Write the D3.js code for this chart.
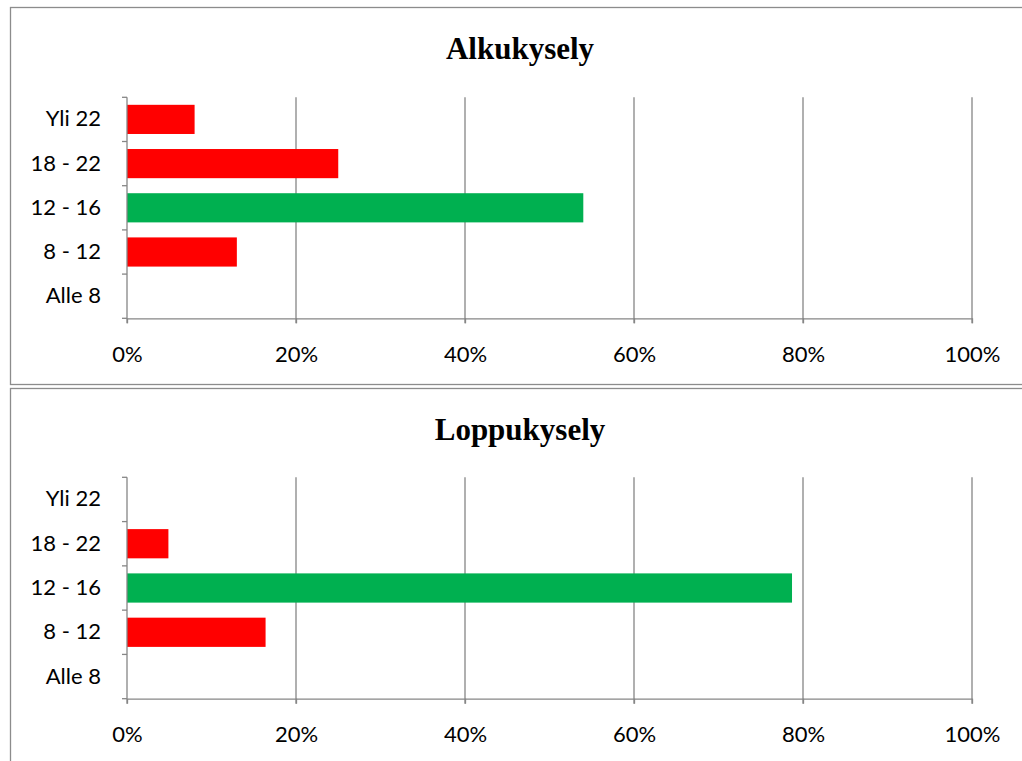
<!DOCTYPE html>
<html><head><meta charset="utf-8">
<script src="https://cdn.jsdelivr.net/npm/d3@7/dist/d3.min.js"></script>
<style>body{margin:0;background:#fff}svg{display:block}</style>
</head><body>
<svg id="c" width="1022" height="761"></svg>
<script>
const categories = ["Alle 8", "8 - 12", "12 - 16", "18 - 22", "Yli 22"];
const alkuValues = [0, 13, 54, 25, 8];
const loppuValues = [0, 16.4, 78.7, 4.9, 0];
const barColors = ["#ff0000", "#ff0000", "#00b050", "#ff0000", "#ff0000"];
const xTicks = [0, 20, 40, 60, 80, 100];
const titles = ["Alkukysely", "Loppukysely"];

const svg = d3.select("#c");
const panels = [
  {title: titles[0], values: alkuValues, box: [10.5, 7.5, 1030, 377], top: 97.3, bottom: 318.3, titleY: 59},
  {title: titles[1], values: loppuValues, box: [10.5, 388.5, 1030, 400], top: 477.3, bottom: 698.7, titleY: 440}
];
const x = d3.scaleLinear().domain([0, 100]).range([127, 972]);

panels.forEach(p => {
  svg.append("rect").attr("x", p.box[0]).attr("y", p.box[1]).attr("width", p.box[2]).attr("height", p.box[3])
    .attr("fill", "#fff").attr("stroke", "#8c8c8c").attr("stroke-width", 1.3);
  svg.append("text").attr("x", 520).attr("y", p.titleY).attr("text-anchor", "middle")
    .attr("font-family", "Liberation Serif, Times New Roman, serif").attr("font-weight", "bold")
    .attr("font-size", 31).attr("fill", "#000").text(p.title);

  const y = d3.scaleBand().domain(categories.slice().reverse()).range([p.top, p.bottom]).paddingInner(0.34).paddingOuter(0.17);
  const g = svg.append("g");
  g.selectAll(".grid").data(xTicks.slice(1)).join("line")
    .attr("x1", d => x(d)).attr("x2", d => x(d)).attr("y1", p.top).attr("y2", p.bottom + 5)
    .attr("stroke", "#868686").attr("stroke-width", 1.3);
  g.selectAll(".bar").data(categories.map((c, i) => ({c, v: p.values[i], col: barColors[i]}))).join("rect")
    .attr("x", x(0)).attr("y", d => y(d.c)).attr("width", d => x(d.v) - x(0)).attr("height", y.bandwidth())
    .attr("fill", d => d.col);
  const xa = d3.axisBottom(x).tickValues(xTicks).tickFormat(d => d + "%").tickSize(5).tickSizeOuter(0).tickPadding(23);
  const gx = svg.append("g").attr("transform", `translate(0,${p.bottom})`).call(xa);
  const yEdges = d3.scaleLinear().domain([0, categories.length]).range([p.top, p.bottom]);
  const ya = d3.axisLeft(y).tickSize(0).tickPadding(26);
  const gy = svg.append("g").attr("transform", `translate(${x(0)},0)`).call(ya);
  gy.select(".domain").remove();
  svg.append("g").selectAll("line").data(d3.range(categories.length + 1)).join("line")
    .attr("x1", x(0) - 5).attr("x2", x(0)).attr("y1", d => yEdges(d)).attr("y2", d => yEdges(d))
    .attr("stroke", "#868686").attr("stroke-width", 1.3);
  svg.append("line").attr("x1", x(0)).attr("x2", x(0)).attr("y1", p.top).attr("y2", p.bottom + 5)
    .attr("stroke", "#868686").attr("stroke-width", 1.3);
  [gx, gy].forEach(a => {
    a.selectAll("text").attr("font-family", "Lato, Open Sans, sans-serif").attr("font-size", 22).attr("fill", "#000");
    a.selectAll("line").attr("stroke", "#868686").attr("stroke-width", 1.3);
    a.select(".domain").attr("stroke", "#868686").attr("stroke-width", 1.3);
  });
});
</script>
</body></html>
